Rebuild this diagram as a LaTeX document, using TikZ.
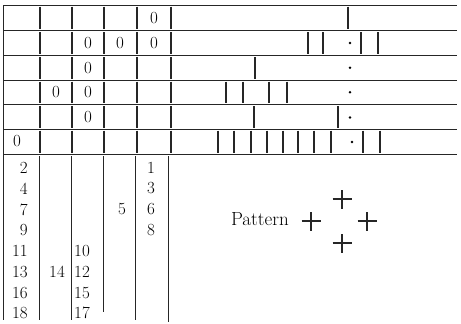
\documentclass[tikz,border=0pt]{standalone}
\usepackage{tikz}
\begin{document}
\begin{tikzpicture}[x=1pt,y=-1pt,
  rule/.style={line width=0.9pt,black!85},
  bar/.style={line width=1.1pt,black!85},
  thickbar/.style={line width=1.8pt,black!85},
  fig/.style={inner sep=0pt,font=\fontsize{17}{19}\selectfont},
  lbl/.style={inner sep=0pt,font=\fontsize{19}{21}\selectfont},
  plusmark/.style={line width=1.5pt,black!85}]
\useasboundingbox[fill=white] (0,0) rectangle (461,324);
% horizontal rules
\foreach \y in {5,30.5,55.5,80,104.5,129,154}
  \draw[rule] (3,\y) -- (457,\y);
% left border
\draw[rule] (3.5,5) -- (3.5,320);
% upper column bars
\foreach \t/\b in {5/30.5,30.5/55.5,55.5/80,80/104.5,104.5/129,129/154}
  \foreach \x in {40,72,104,137,171}
    \draw[bar] (\x,\t+1.5) -- (\x,\b-1.5);
% lower column lines
\foreach \x/\e in {39/320,71/320,103/312,135/320,168/322}
  \draw[rule] (\x,156) -- (\x,\e);
% zeros
\foreach \n/\x/\y in {z1/154/17.7, z2/88/43, z3/120/43, z4/154/43, z5/88/67.7,
  z6/56/92.2, z7/88/92.2, z8/88/116.7, z9/17/141.5}
  \node[fig] (\n) at (\x,\y) {0};
% right part bars
\draw[thickbar] (348,6.5) -- (348,29);
\foreach \x in {308,323,361,378} \draw[bar] (\x,32) -- (\x,54);
\draw[bar] (255,57) -- (255,78.5);
\foreach \x in {226,243,269,287} \draw[bar] (\x,81.5) -- (\x,103);
\draw[bar] (254,106) -- (254,127.5);
\draw[thickbar] (338,106) -- (338,127.5);
\foreach \x in {218,234,251,267,283,298,314,331,363,380} \draw[bar] (\x,130.5) -- (\x,152.5);
% dots
\foreach \n/\x/\y in {d1/350/43, d2/350/67.7, d3/350/92.2, d4/350/117.5, d5/352/142}
  \fill (\x,\y) circle (1.4pt) coordinate (\n);
% lower numbers, first column (right aligned)
\foreach \v/\y in {2/168,4/188.5,7/209.5,9/230,11/251,13/272,16/293,18/313}
  \node[fig,anchor=east] (a\v) at (28,\y) {\v};
\node[fig] (n14) at (57,272) {14};
\foreach \v/\y in {10/251,12/272,15/293,17/313}
  \node[fig,anchor=west] (c\v) at (74,\y) {\v};
\node[fig] (n5) at (122,209.5) {5};
\foreach \v/\y in {1/168,3/188.5,6/209.5,8/230}
  \node[fig] (e\v) at (151,\y) {\v};
% pattern
\node[lbl,anchor=base east] (pat) at (289,225) {Pattern};
\foreach \n/\x/\y in {p1/342/199,p2/311/221,p3/367/221,p4/342/243}{
  \coordinate (\n) at (\x,\y);
  \draw[plusmark] ([xshift=-9.5pt]\n) -- ([xshift=9.5pt]\n);
  \draw[plusmark] ([yshift=-9.5pt]\n) -- ([yshift=9.5pt]\n);
}
\end{tikzpicture}
\end{document}
